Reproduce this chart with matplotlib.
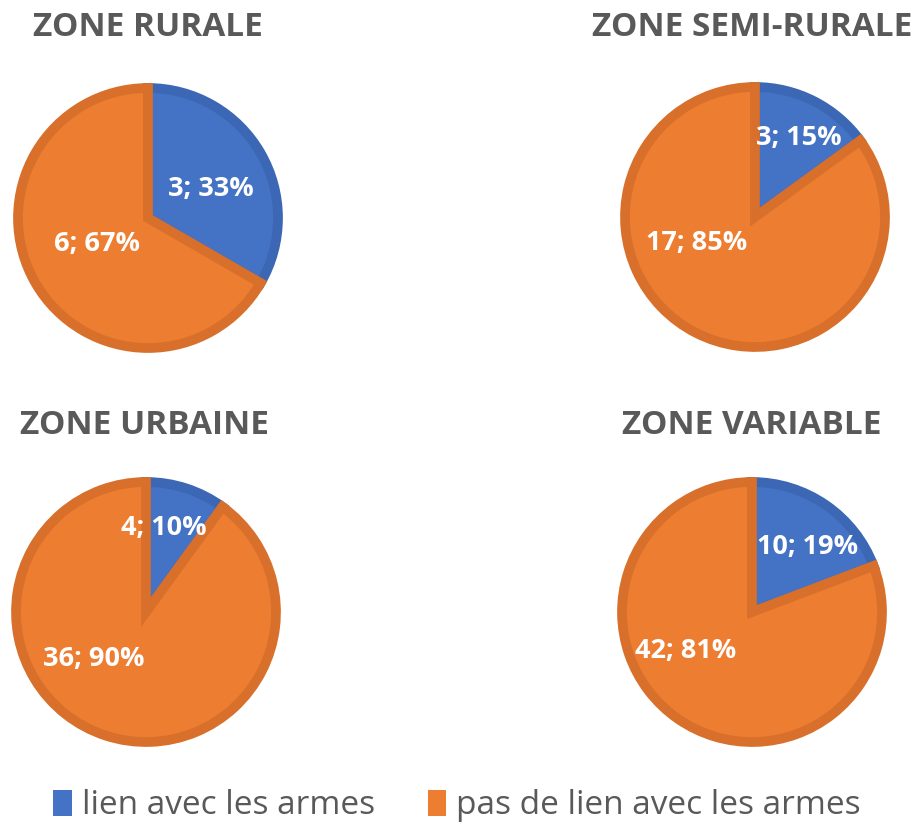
import matplotlib
matplotlib.use('Agg')
import matplotlib.pyplot as plt
from matplotlib.patches import Patch

# data
zones = ['ZONE RURALE', 'ZONE SEMI-RURALE', 'ZONE URBAINE', 'ZONE VARIABLE']
lien = [3, 3, 4, 10]
pas_lien = [6, 17, 36, 42]
series = ['lien avec les armes', 'pas de lien avec les armes']

fill = ['#4472C4', '#ED7D31']
edge = ['#3C67B5', '#D8702B']
grey = '#595959'

W, H = 920, 824
# pie centres (px), label offsets (in radius units) - layout only
centres = [(148, 218), (755, 217), (146, 612), (752, 612)]
title_pos = [(148, 27), (752, 27), (145, 425), (752, 425)]
label_off = [
    [(0.48, 0.22), (-0.39, -0.20)],
    [(0.34, 0.61), (-0.45, -0.20)],
    [(0.14, 0.65), (-0.40, -0.36)],
    [(0.43, 0.50), (-0.51, -0.30)],
]
r_px = 130
lw = 7

fig = plt.figure(figsize=(W / 100, H / 100), dpi=100)

for i, zone in enumerate(zones):
    cx, cy = centres[i]
    ax = fig.add_axes([(cx - r_px) / W, 1 - (cy + r_px) / H, 2 * r_px / W, 2 * r_px / H])
    vals = [lien[i], pas_lien[i]]
    wedges, _ = ax.pie(vals, colors=fill, startangle=90, counterclock=False,
                       radius=1, wedgeprops=dict(linewidth=lw, joinstyle='miter'))
    for w, ec in zip(wedges, edge):
        w.set_edgecolor(ec)
    total = sum(vals)
    for j, v in enumerate(vals):
        dx, dy = label_off[i][j]
        ax.text(dx, dy, f'{v}; {round(100 * v / total)}%', ha='center', va='center',
                color='white', fontsize=19.5, fontweight='bold', family='Open Sans')
    ax.set_xlim(-1, 1)
    ax.set_ylim(-1, 1)
    ax.set_aspect('equal')
    ax.axis('off')
    tx, ty = title_pos[i]
    fig.text(tx / W, 1 - ty / H, zone, ha='center', va='center', color=grey,
             fontsize=24, fontweight='bold', family='Open Sans')

handles = [Patch(facecolor=c, edgecolor='none') for c in fill]
fig.legend(handles, series, loc='center', bbox_to_anchor=(0.497, 1 - 806 / H), ncol=2,
           frameon=False, prop={'family': 'Open Sans', 'size': 24}, labelcolor=grey,
           handlelength=0.55, handleheight=0.8, handletextpad=0.3, columnspacing=1.6)

fig.savefig('out.png', dpi=100)
